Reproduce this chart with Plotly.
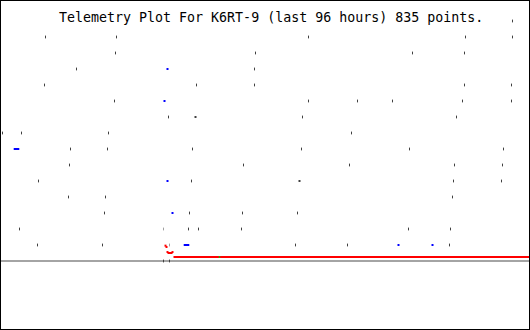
import plotly.graph_objects as go

# Telemetry samples: x = sample position, y = level value
gray_x = [512, 45, 116, 308, 465, 512,
          115, 255, 412, 464,
          76, 254,
          44, 196, 254, 464, 511,
          114, 308, 357, 392, 462, 511,
          168, 302, 456,
          2, 21, 108, 351,
          70, 107, 192, 301, 409, 503,
          69, 243, 349, 454, 502,
          38, 191, 453, 501,
          68, 105, 452,
          104, 189, 242, 297,
          19, 188, 198, 241, 408, 450,
          37, 102, 295, 347, 449,
          163, 169]
gray_y = [15, 14, 14, 14, 14, 14,
          13, 13, 13, 13,
          12, 12,
          11, 11, 11, 11, 11,
          10, 10, 10, 10, 10, 10,
          9, 9, 9,
          8, 8, 8, 8,
          7, 7, 7, 7, 7, 7,
          6, 6, 6, 6, 6,
          5, 5, 5, 5,
          4, 4, 4,
          3, 3, 3, 3,
          2, 2, 2, 2, 2, 2,
          1, 1, 1, 1, 1,
          0, 0]

square_x = [195, 299]
square_y = [9, 5]

light_x = [163, 169]
light_y = [2, 1]

blue_x = [167, 164, 167, 172, 398, 432]
blue_y = [12, 10, 5, 3, 1, 1]
blue_wide_x = [16, 186]
blue_wide_y = [7, 1]

red_curve_x = [165, 166, 167, 168, 169, 170, 171, 172]
red_curve_y = [0.96, 0.875, 0.56, 0.5, 0.5, 0.5, 0.5, 0.56]
red_line_x = [173, 530]
red_line_y = [0.25, 0.25]

green_x = [219]
green_y = [0.25]

base_x = [-1, 531]
base_y = [0, 0]

title = "Telemetry Plot For K6RT-9 (last 96 hours) 835 points."

fig = go.Figure()
fig.add_trace(go.Scatter(x=base_x, y=base_y, mode="lines",
                         line=dict(color="#a4a4a4", width=2), hoverinfo="skip"))
fig.add_trace(go.Scatter(x=red_line_x, y=red_line_y, mode="lines",
                         line=dict(color="#ff0000", width=2), hoverinfo="skip"))
fig.add_trace(go.Scatter(x=red_curve_x, y=red_curve_y, mode="markers",
                         marker=dict(symbol="square", size=2, color="#ff0000",
                                     line=dict(width=0)), hoverinfo="skip"))
fig.add_trace(go.Scatter(x=green_x, y=green_y, mode="markers",
                         marker=dict(symbol="square", size=1.5, color="#00cc00",
                                     line=dict(width=0)), hoverinfo="skip"))
fig.add_trace(go.Scatter(x=gray_x, y=gray_y, mode="markers",
                         marker=dict(symbol="line-ns", size=2,
                                     line=dict(color="#404040", width=1)),
                         hoverinfo="skip"))
fig.add_trace(go.Scatter(x=light_x, y=light_y, mode="markers",
                         marker=dict(symbol="line-ns", size=2,
                                     line=dict(color="#a0a0a0", width=1)),
                         hoverinfo="skip"))
fig.add_trace(go.Scatter(x=square_x, y=square_y, mode="markers",
                         marker=dict(symbol="square", size=2, color="#404040",
                                     line=dict(width=0)), hoverinfo="skip"))
fig.add_trace(go.Scatter(x=blue_x, y=blue_y, mode="markers",
                         marker=dict(symbol="square", size=2, color="#0000ff",
                                     line=dict(width=0)), hoverinfo="skip"))
fig.add_trace(go.Scatter(x=blue_wide_x, y=blue_wide_y, mode="markers",
                         marker=dict(symbol="line-ew", size=4,
                                     line=dict(color="#0000ff", width=2)),
                         hoverinfo="skip"))

fig.update_layout(
    width=530, height=330,
    margin=dict(l=0, r=0, t=0, b=0),
    paper_bgcolor="white", plot_bgcolor="white",
    showlegend=False,
    xaxis=dict(range=[-0.5, 529.5], visible=False, fixedrange=True),
    yaxis=dict(range=[-4.3125, 16.3125], visible=False, fixedrange=True),
    annotations=[dict(text=title, xref="paper", yref="paper",
                      x=271 / 530, y=1 - 17 / 330, xanchor="center", yanchor="middle",
                      showarrow=False,
                      font=dict(family="DejaVu Sans Mono", size=13.3, color="black"))],
    shapes=[dict(type="rect", xref="paper", yref="paper", x0=0, x1=1, y0=0, y1=1,
                 line=dict(color="black", width=2))],
)

fig.write_html("out.html", config={"displayModeBar": False})
